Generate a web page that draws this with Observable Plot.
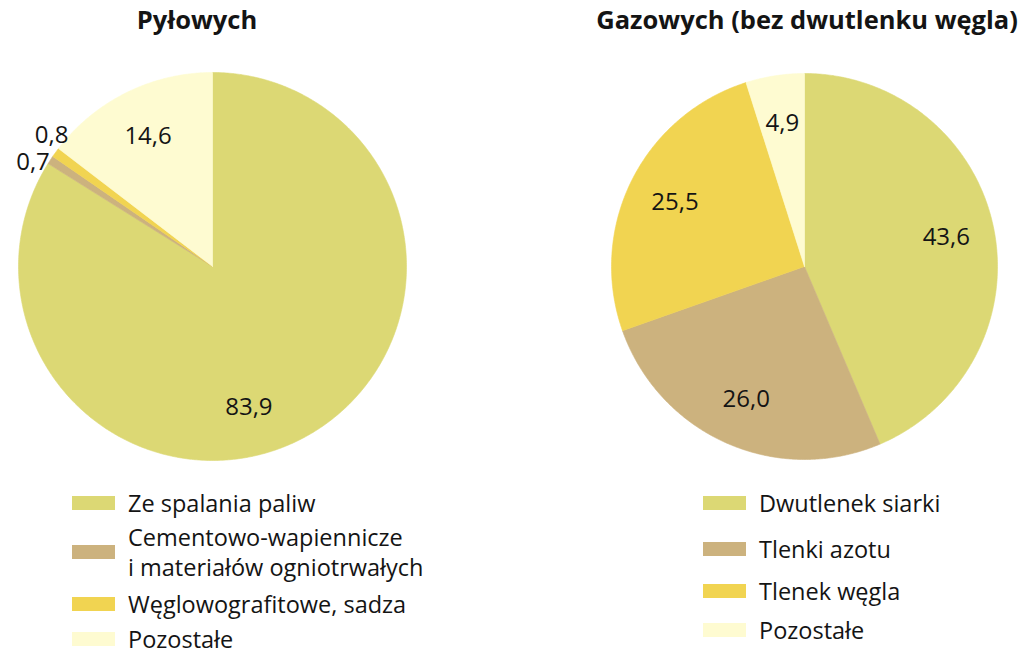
<!DOCTYPE html>
<html><head><meta charset="utf-8">
<script src="https://cdn.jsdelivr.net/npm/d3@7"></script>
<script src="https://cdn.jsdelivr.net/npm/@observablehq/plot@0.6"></script>
<style>
body{margin:0;background:#fff;font-family:"Open Sans",sans-serif;color:#141414}
#root{position:relative;width:1019px;height:654px;overflow:hidden;background:#fff}
.title{position:absolute;top:2px;font-weight:bold;font-size:25.5px;text-align:center;white-space:nowrap;transform:translateX(-50%)}
.pie{position:absolute}
.row{position:absolute;display:flex;align-items:center;transform:translateY(-50%);font-size:23.5px;line-height:24px;white-space:nowrap}
.row .multi{line-height:30px}
.sw{width:43px;height:14px;margin-right:13px;flex:none}
</style></head>
<body><div id="root"></div>
<script>
// ---- data ----
const titleDust = "Pyłowych";
const titleGas = "Gazowych (bez dwutlenku węgla)";
const dustCategories = ["Ze spalania paliw", "Cementowo-wapiennicze\ni materiałów ogniotrwałych", "Węglowografitowe, sadza", "Pozostałe"];
const dustValues = [83.9, 0.7, 0.8, 14.6];
const gasCategories = ["Dwutlenek siarki", "Tlenki azotu", "Tlenek węgla", "Pozostałe"];
const gasValues = [43.6, 26.0, 25.5, 4.9];
const sliceColors = ["#dcd874", "#ccb27e", "#f1d451", "#fefbd1"];

// ---- drawing ----
const root = document.getElementById("root");
const fmt = v => v.toFixed(1).replace(".", ",");

function pie(cats, vals, W, H, cx, cy, R) {
  const arcs = d3.pie().sort(null).value(d => d)(vals);
  const poly = [];
  arcs.forEach((a, i) => {
    const n = Math.max(2, Math.ceil((a.endAngle - a.startAngle) / (Math.PI / 360)));
    poly.push({cat: cats[i], x: 0, y: 0});
    for (let k = 0; k <= n; k++) {
      const t = a.startAngle + (a.endAngle - a.startAngle) * k / n;
      poly.push({cat: cats[i], x: Math.sin(t), y: Math.cos(t)});
    }
    poly.push({cat: cats[i], x: 0, y: 0});
  });
  // labels (inside near 3/4 radius; tiny slices outside, spread apart;
  // a slice larger than half the pie is labelled towards the bottom, as the source does)
  const small = arcs.map((a, i) => i).filter(i => vals[i] < 2);
  const smallMean = small.length ? d3.mean(small, i => (arcs[i].startAngle + arcs[i].endAngle) / 2) : 0;
  const labels = arcs.map((a, i) => {
    let mid = (a.startAngle + a.endAngle) / 2, rr = 0.75;
    if (a.endAngle - a.startAngle > Math.PI) mid = (mid + Math.PI) / 2;
    if (vals[i] < 2) {
      const k = small.indexOf(i);
      mid = smallMean + (k - (small.length - 1) / 2) * (9 * Math.PI / 180);
      rr = 1.07;
    }
    return {label: fmt(vals[i]), x: rr * Math.sin(mid), y: rr * Math.cos(mid)};
  });
  return Plot.plot({
    width: W, height: H, margin: 0,
    x: {domain: [-cx / R, (W - cx) / R], axis: null},
    y: {domain: [-(H - cy) / R, cy / R], axis: null},
    color: {domain: cats, range: sliceColors},
    marks: [
      Plot.line(poly, {x: "x", y: "y", z: "cat", fill: "cat", stroke: "cat", strokeWidth: 0.6, curve: "linear"}),
      Plot.text(labels, {x: "x", y: "y", text: "label", fontSize: 24, fill: "#141414", fontFamily: "Open Sans"})
    ],
    style: {background: "transparent", fontFamily: "Open Sans"}
  });
}

function place(el, left, top) { el.style.left = left + "px"; el.style.top = top + "px"; el.classList.add("pie"); root.appendChild(el); }

place(pie(dustCategories, dustValues, 420, 420, 212, 210, 194), 0, 56);
place(pie(gasCategories, gasValues, 420, 420, 205, 210, 193), 599, 56);

function title(text, cx) {
  const d = document.createElement("div"); d.className = "title"; d.textContent = text; d.style.left = cx + "px"; root.appendChild(d);
}
title(titleDust, 197);
title(titleGas, 807);

function legend(cats, left, centers) {
  cats.forEach((c, i) => {
    const r = document.createElement("div"); r.className = "row";
    r.style.left = left + "px"; r.style.top = centers[i] + "px";
    const s = document.createElement("div"); s.className = "sw"; s.style.background = sliceColors[i];
    const t = document.createElement("div");
    const lines = c.split("\n");
    if (lines.length > 1) t.className = "multi";
    t.innerHTML = lines.join("<br>");
    r.appendChild(s); r.appendChild(t); root.appendChild(r);
  });
}
legend(dustCategories, 72, [503, 552, 604, 639]);
legend(gasCategories, 703, [503, 549, 591, 630]);
</script>
</body></html>
